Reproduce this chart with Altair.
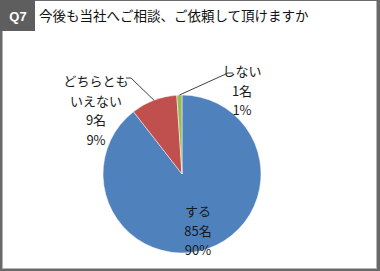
import altair as alt
import pandas as pd
import numpy as np

# ---- data ----
categories = ["する", "どちらともいえない", "しない"]
display_names = ["する", "どちらとも\nいえない", "しない"]
counts = [85, 9, 1]
percents = [90, 9, 1]
colors = ["#4F81BD", "#C0504D", "#9BBB59"]
title_text = "今後も当社へご相談、ご依頼して頂けますか"
q_label = "Q7"

# ---- layout ----
W, H = 380, 271
CX, CY, R = 182, 174, 79
FONT = "Noto Sans CJK JP"
label_pos = {"する": (198, 212), "どちらともいえない": (96, 82), "しない": (242, 72)}
leader = {"どちらともいえない": [(131, 78), (126, 78)], "しない": [(228, 73), (233, 73)]}

xs = alt.Scale(domain=[0, W], range=[0, W])
ys = alt.Scale(domain=[0, H], range=[0, H])

one = pd.DataFrame({"a": [0]})

def rect(x, x2, y, y2, c):
    return alt.Chart(one).mark_rect(color=c).encode(
        x=alt.value(x), x2=alt.value(x2), y=alt.value(y), y2=alt.value(y2))

frame = alt.layer(
    rect(2, 377, 1, 269, "#b4b4b4"),
    rect(3, 376, 1, 268, "#ffffff"),
    rect(0, 35, 0, 31, "#5e5e5e"),
)

pie_df = pd.DataFrame({"cat": categories, "n": counts, "order": list(range(len(categories)))})
pie = alt.Chart(pie_df).mark_arc(radius=R, stroke="white", strokeWidth=0.5).encode(
    theta=alt.Theta("n:Q", stack=True),
    order=alt.Order("order:Q"),
    color=alt.Color("cat:N", scale=alt.Scale(domain=categories, range=colors), legend=None),
    x=alt.value(CX), y=alt.value(CY),
)

# label texts
lab_rows = []
for c, d, n, p in zip(categories, display_names, counts, percents):
    lx, ly = label_pos[c]
    lab_rows.append({"cat": c, "txt": "\n".join([d, f"{n}名", f"{p}%"]), "x": lx, "y": ly})
lab_df = pd.DataFrame(lab_rows)
labels = alt.Chart(lab_df).mark_text(
    font=FONT, fontSize=13, lineBreak="\n", lineHeight=19.5,
    align="center", baseline="middle", color="#1a1a1a"
).encode(
    x=alt.X("x:Q", scale=xs, axis=None),
    y=alt.Y("y:Q", scale=ys, axis=None),
    text="txt:N",
)

# leader lines from slice mid-angle edge to labels
total = sum(counts)
cum = np.cumsum(counts)
line_rows = []
for i, c in enumerate(categories):
    if c not in leader:
        continue
    mid = (cum[i] - counts[i] / 2) / total * 2 * np.pi
    ex, ey = CX + R * np.sin(mid), CY - R * np.cos(mid)
    pts = [(ex, ey)] + leader[c]
    for k, (px, py) in enumerate(pts):
        line_rows.append({"cat": c, "k": k, "x": float(px), "y": float(py)})
line_df = pd.DataFrame(line_rows)
lines = alt.Chart(line_df).mark_line(color="#404040", strokeWidth=1).encode(
    x=alt.X("x:Q", scale=xs, axis=None),
    y=alt.Y("y:Q", scale=ys, axis=None),
    detail="cat:N",
    order="k:Q",
)

title = alt.Chart(one).mark_text(
    text=title_text, font=FONT, fontSize=13.5, align="left", baseline="middle", color="#111111"
).encode(x=alt.value(39), y=alt.value(17))

qtxt = alt.Chart(one).mark_text(
    text=q_label, font="Liberation Sans", fontSize=13, fontWeight="bold",
    align="center", baseline="middle", color="white"
).encode(x=alt.value(18), y=alt.value(17))

chart = alt.layer(frame, pie, lines, labels, title, qtxt).properties(
    width=W, height=H, background="#696969", padding=0,
    autosize=alt.AutoSizeParams(type="none"),
).configure_view(stroke=None)

chart.save("out.html", embed_options={"renderer": "svg", "actions": False})
